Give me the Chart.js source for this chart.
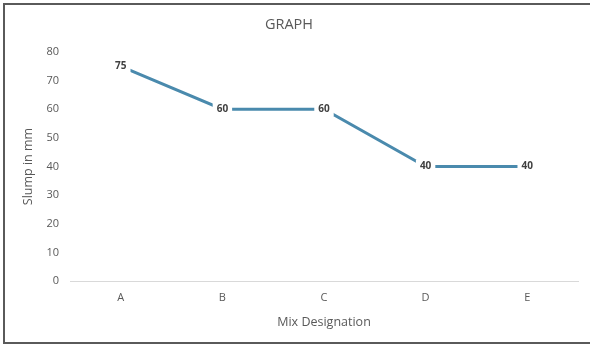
<!DOCTYPE html>
<html>
<head>
<meta charset="utf-8">
<script src="https://cdn.jsdelivr.net/npm/chart.js@4"></script>
<style>
  html, body { margin: 0; padding: 0; background: #fff; overflow: hidden; }
  #wrap { position: relative; width: 590px; height: 345px; overflow: hidden; }
  #frame { position: absolute; left: 3px; top: 3px; width: 600px; height: 341px;
           border: 2px solid #5a5a5a; border-right: none; box-sizing: border-box;
           pointer-events: none; }
  canvas { position: absolute; left: 0; top: 0; }
</style>
</head>
<body>
<div id="wrap">
  <canvas id="c" width="590" height="345"></canvas>
  <div id="frame"></div>
</div>
<script>
// Slump per mix
const mixes = ['A', 'B', 'C', 'D', 'E'];
const slump = [75, 60, 60, 40, 40];
const yTicks = [0, 10, 20, 30, 40, 50, 60, 70, 80];

const textGray = '#595959';
const family = '"Open Sans", "Noto Sans", sans-serif';

// Value labels centred on each point, on a white patch over the line
const valueLabels = {
  id: 'valueLabels',
  afterDatasetsDraw(chart) {
    const ctx = chart.ctx;
    const meta = chart.getDatasetMeta(0);
    const data = chart.data.datasets[0].data;
    ctx.save();
    ctx.font = 'bold 10px ' + family;
    ctx.textAlign = 'center';
    ctx.textBaseline = 'middle';
    meta.data.forEach((pt, i) => {
      const txt = String(data[i]);
      const w = ctx.measureText(txt).width;
      ctx.fillStyle = '#ffffff';
      ctx.fillRect(pt.x - w / 2 - 4, pt.y - 7, w + 8, 14);
      ctx.fillStyle = '#404040';
      ctx.fillText(txt, pt.x, pt.y);
    });
    ctx.restore();
  }
};

new Chart(document.getElementById('c'), {
  type: 'line',
  data: {
    labels: mixes,
    datasets: [{
      data: slump,
      borderColor: '#4a8aad',
      borderWidth: 3,
      pointRadius: 0,
      tension: 0,
      fill: false
    }]
  },
  options: {
    responsive: false,
    animation: false,
    layout: { padding: { left: 0, right: 12, top: 0, bottom: 0 } },
    plugins: {
      legend: { display: false },
      tooltip: { enabled: false },
      title: {
        display: true,
        text: 'GRAPH',
        color: textGray,
        font: { family, size: 14.5, weight: 'normal', lineHeight: 1.2 },
        padding: { top: 15.8, bottom: 18.8 }
      }
    },
    scales: {
      x: {
        offset: true,
        grid: { display: false, drawTicks: false },
        border: { display: true, color: '#d9d9d9', width: 1 },
        ticks: { color: textGray, font: { family, size: 11 }, padding: 10 },
        title: {
          display: true, text: 'Mix Designation', color: textGray,
          font: { family, size: 12.5, lineHeight: 1.2 },
          padding: { top: 4, bottom: 15.5 }
        },
        afterFit(scale) { scale.height = 64; }
      },
      y: {
        min: 0, max: 80,
        afterBuildTicks(scale) { scale.ticks = yTicks.map(v => ({ value: v })); },
        grid: { display: false, drawTicks: false },
        border: { display: false },
        ticks: { color: textGray, font: { family, size: 11 }, padding: 11 },
        title: {
          display: true, text: 'Slump in mm', color: textGray,
          font: { family, size: 12.5, lineHeight: 1.2 },
          padding: { top: 20.5, bottom: 4 }
        },
        afterFit(scale) { scale.width = 70; }
      }
    }
  },
  plugins: [valueLabels]
});
</script>
</body>
</html>
